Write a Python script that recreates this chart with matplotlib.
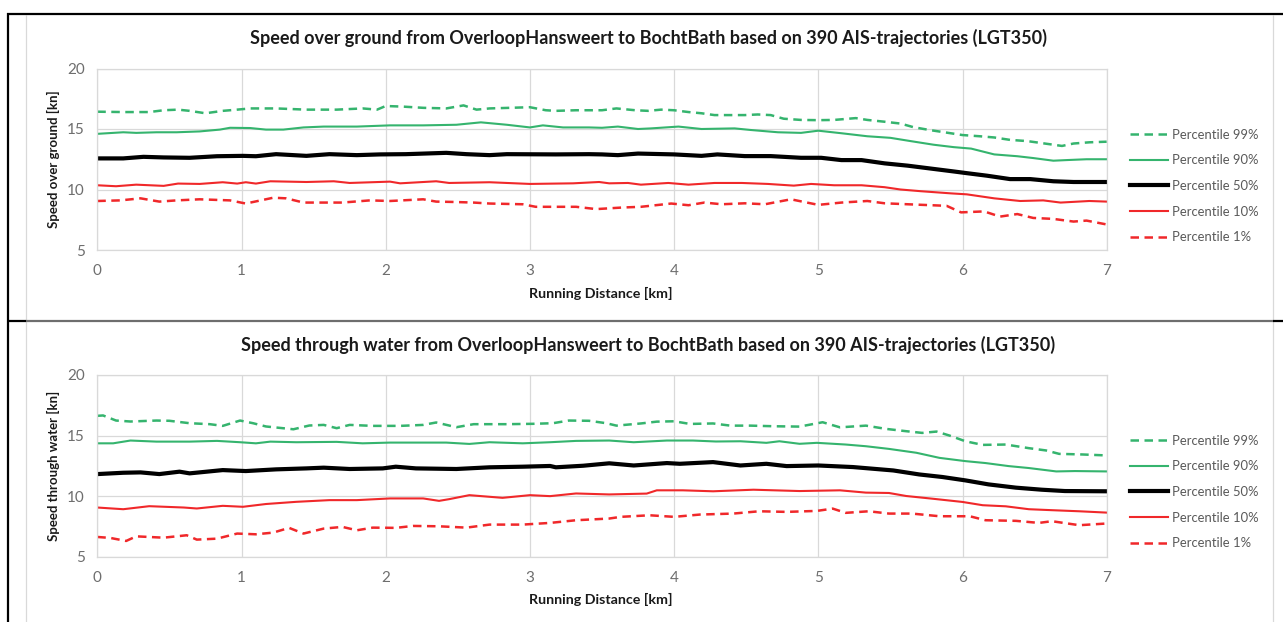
import matplotlib
matplotlib.use("Agg")
import matplotlib.pyplot as plt
from matplotlib.lines import Line2D

plt.rcParams['font.family'] = ['Lato', 'DejaVu Sans']

# ---------------- data: Speed over ground (top panel) ----------------
sog_p99_km = [0, 0.18, 0.36, 0.46, 0.56, 0.64, 0.75, 0.87, 0.97, 1.06, 1.24, 1.45, 1.66, 1.84, 1.94, 2.0,
              2.12, 2.26, 2.42, 2.54, 2.63, 2.72, 2.86, 3.0, 3.11, 3.18, 3.32, 3.5, 3.6, 3.73, 3.82, 3.91,
              4.0, 4.1, 4.19, 4.28, 4.4, 4.49, 4.58, 4.67, 4.76, 4.88, 5.0, 5.11, 5.26, 5.34, 5.46, 5.57,
              5.66, 5.78, 5.89, 6.0, 6.12, 6.22, 6.33, 6.45, 6.57, 6.69, 6.77, 6.88, 7.0]
sog_p99 = [16.43, 16.4, 16.4, 16.55, 16.6, 16.5, 16.3, 16.5, 16.6, 16.7, 16.7, 16.6, 16.6, 16.7, 16.6, 16.9,
           16.85, 16.75, 16.7, 16.95, 16.6, 16.7, 16.75, 16.8, 16.55, 16.5, 16.55, 16.55, 16.7, 16.55, 16.5, 16.6,
           16.55, 16.4, 16.3, 16.15, 16.15, 16.15, 16.2, 16.15, 15.85, 15.75, 15.73, 15.75, 15.9, 15.75, 15.6, 15.45,
           15.15, 14.9, 14.7, 14.5, 14.4, 14.3, 14.1, 14.0, 13.8, 13.6, 13.8, 13.9, 13.95]

sog_p90_km = [0, 0.18, 0.27, 0.41, 0.55, 0.71, 0.85, 0.92, 1.06, 1.17, 1.29, 1.43, 1.57, 1.8, 2.03, 2.26,
              2.49, 2.66, 2.84, 3.0, 3.09, 3.23, 3.41, 3.5, 3.61, 3.75, 3.84, 4.03, 4.19, 4.42, 4.53, 4.72,
              4.88, 5.0, 5.16, 5.34, 5.5, 5.64, 5.8, 5.94, 6.06, 6.22, 6.38, 6.49, 6.63, 6.72, 6.86, 7.0]
sog_p90 = [14.6, 14.73, 14.68, 14.73, 14.73, 14.8, 14.95, 15.1, 15.08, 14.95, 14.95, 15.13, 15.2, 15.2, 15.3, 15.3,
           15.35, 15.55, 15.35, 15.13, 15.3, 15.13, 15.13, 15.1, 15.2, 15.0, 15.05, 15.2, 15.0, 15.05, 14.92, 14.73,
           14.68, 14.86, 14.65, 14.4, 14.27, 14.0, 13.7, 13.5, 13.38, 12.9, 12.75, 12.6, 12.38, 12.43, 12.5, 12.5]

sog_p50_km = [0, 0.18, 0.32, 0.46, 0.64, 0.83, 1.01, 1.1, 1.24, 1.45, 1.61, 1.8, 1.96, 2.14, 2.42, 2.56,
              2.72, 2.84, 3.18, 3.41, 3.5, 3.61, 3.75, 4.0, 4.19, 4.3, 4.49, 4.67, 4.88, 5.02, 5.16, 5.3,
              5.46, 5.62, 5.8, 5.94, 6.03, 6.17, 6.33, 6.47, 6.63, 6.77, 7.0]
sog_p50 = [12.57, 12.57, 12.7, 12.65, 12.62, 12.75, 12.78, 12.75, 12.92, 12.78, 12.92, 12.84, 12.9, 12.92, 13.03, 12.92,
           12.84, 12.92, 12.9, 12.92, 12.9, 12.84, 12.97, 12.9, 12.78, 12.9, 12.76, 12.76, 12.62, 12.62, 12.43, 12.43,
           12.16, 11.97, 11.7, 11.49, 11.35, 11.14, 10.86, 10.86, 10.68, 10.62, 10.62]

sog_p10_km = [0, 0.13, 0.27, 0.46, 0.56, 0.71, 0.87, 0.97, 1.03, 1.1, 1.2, 1.45, 1.64, 1.75, 2.03, 2.1,
              2.35, 2.44, 2.72, 3.0, 3.3, 3.48, 3.55, 3.68, 3.77, 3.96, 4.1, 4.28, 4.47, 4.65, 4.83, 4.95,
              5.11, 5.3, 5.46, 5.57, 5.71, 5.92, 6.03, 6.22, 6.4, 6.56, 6.68, 6.88, 7.0]
sog_p10 = [10.35, 10.27, 10.4, 10.3, 10.49, 10.46, 10.6, 10.49, 10.6, 10.49, 10.68, 10.62, 10.68, 10.54, 10.65, 10.51,
           10.68, 10.54, 10.6, 10.46, 10.51, 10.62, 10.51, 10.54, 10.4, 10.54, 10.4, 10.54, 10.54, 10.46, 10.32, 10.46,
           10.35, 10.35, 10.19, 10.0, 9.86, 9.68, 9.6, 9.27, 9.05, 9.1, 8.92, 9.05, 9.0]

sog_p1_km = [0, 0.16, 0.3, 0.43, 0.55, 0.71, 0.92, 1.03, 1.22, 1.31, 1.43, 1.7, 1.89, 2.03, 2.26, 2.35,
             2.47, 2.61, 2.72, 2.95, 3.04, 3.32, 3.46, 3.64, 3.77, 3.98, 4.1, 4.21, 4.33, 4.49, 4.63, 4.81,
             5.0, 5.16, 5.34, 5.46, 5.62, 5.89, 5.99, 6.15, 6.26, 6.38, 6.49, 6.63, 6.77, 6.86, 7.0]
sog_p1 = [9.05, 9.1, 9.27, 9.0, 9.1, 9.19, 9.1, 8.84, 9.32, 9.27, 8.92, 8.92, 9.1, 9.05, 9.19, 9.0,
          8.97, 8.92, 8.84, 8.78, 8.57, 8.57, 8.38, 8.51, 8.57, 8.84, 8.7, 8.92, 8.78, 8.86, 8.78, 9.19,
          8.73, 8.92, 9.05, 8.86, 8.78, 8.65, 8.11, 8.19, 7.76, 7.97, 7.65, 7.57, 7.35, 7.43, 7.11]

# ---------------- data: Speed through water (bottom panel) ----------------
stw_p99_km = [0, 0.04, 0.13, 0.23, 0.41, 0.5, 0.64, 0.78, 0.87, 0.99, 1.08, 1.17, 1.36, 1.47, 1.57, 1.66,
              1.75, 1.91, 2.1, 2.26, 2.35, 2.49, 2.61, 2.84, 3.02, 3.16, 3.27, 3.41, 3.53, 3.6, 3.77, 3.88,
              4.0, 4.11, 4.27, 4.39, 4.53, 4.69, 4.87, 5.03, 5.15, 5.33, 5.47, 5.61, 5.72, 5.82, 5.91, 6.02,
              6.14, 6.3, 6.46, 6.58, 6.67, 6.83, 7.0]
stw_p99 = [16.63, 16.66, 16.24, 16.16, 16.24, 16.22, 16.02, 15.94, 15.8, 16.24, 16.02, 15.75, 15.52, 15.83, 15.88, 15.61,
           15.88, 15.8, 15.8, 15.88, 16.08, 15.69, 15.94, 15.94, 15.97, 16.02, 16.24, 16.22, 16.02, 15.82, 16.0, 16.15,
           16.18, 15.96, 16.0, 15.82, 15.82, 15.77, 15.74, 16.1, 15.68, 15.82, 15.55, 15.36, 15.22, 15.33, 15.0, 14.53,
           14.23, 14.26, 13.96, 13.77, 13.49, 13.44, 13.36]

stw_p90_km = [0, 0.11, 0.23, 0.41, 0.64, 0.83, 0.99, 1.1, 1.2, 1.38, 1.66, 1.84, 2.03, 2.26, 2.42, 2.58,
              2.72, 2.95, 3.14, 3.32, 3.55, 3.72, 3.95, 4.13, 4.29, 4.46, 4.64, 4.73, 4.87, 4.99, 5.19, 5.33,
              5.49, 5.68, 5.84, 6.02, 6.16, 6.32, 6.46, 6.65, 6.78, 7.0]
stw_p90 = [14.36, 14.36, 14.59, 14.5, 14.5, 14.56, 14.45, 14.36, 14.5, 14.45, 14.48, 14.36, 14.42, 14.42, 14.42, 14.31,
           14.45, 14.36, 14.45, 14.56, 14.59, 14.45, 14.59, 14.59, 14.51, 14.53, 14.4, 14.53, 14.32, 14.4, 14.26, 14.12,
           13.9, 13.58, 13.16, 12.89, 12.73, 12.48, 12.32, 12.04, 12.07, 12.04]

stw_p50_km = [0, 0.18, 0.3, 0.43, 0.57, 0.64, 0.87, 1.03, 1.24, 1.45, 1.57, 1.75, 1.98, 2.07, 2.21, 2.49,
              2.72, 2.95, 3.14, 3.18, 3.37, 3.55, 3.72, 3.95, 4.04, 4.27, 4.46, 4.64, 4.78, 5.0, 5.24, 5.52,
              5.7, 5.86, 6.02, 6.18, 6.37, 6.55, 6.71, 7.0]
stw_p50 = [11.82, 11.93, 11.96, 11.82, 12.02, 11.88, 12.15, 12.07, 12.21, 12.29, 12.35, 12.24, 12.29, 12.43, 12.29, 12.24,
           12.38, 12.43, 12.49, 12.38, 12.51, 12.71, 12.53, 12.73, 12.67, 12.81, 12.53, 12.67, 12.48, 12.53, 12.4, 12.12,
           11.79, 11.58, 11.3, 10.97, 10.7, 10.53, 10.42, 10.4]

stw_p10_km = [0, 0.18, 0.36, 0.6, 0.69, 0.87, 1.01, 1.17, 1.38, 1.61, 1.8, 2.03, 2.26, 2.37, 2.44, 2.58,
              2.81, 3.0, 3.14, 3.32, 3.55, 3.81, 3.88, 4.06, 4.27, 4.55, 4.87, 5.15, 5.33, 5.49, 5.61, 5.79,
              6.0, 6.14, 6.3, 6.46, 6.62, 6.81, 7.0]
stw_p10 = [9.06, 8.92, 9.17, 9.06, 8.98, 9.2, 9.12, 9.35, 9.53, 9.67, 9.67, 9.81, 9.81, 9.61, 9.75, 10.08,
           9.86, 10.08, 10.0, 10.22, 10.14, 10.21, 10.48, 10.48, 10.4, 10.53, 10.42, 10.48, 10.29, 10.26, 10.01, 9.79,
           9.52, 9.25, 9.16, 8.92, 8.84, 8.75, 8.64]

stw_p1_km = [0, 0.09, 0.2, 0.27, 0.46, 0.62, 0.69, 0.83, 0.97, 1.1, 1.22, 1.33, 1.43, 1.57, 1.7, 1.8,
             1.91, 2.07, 2.19, 2.37, 2.56, 2.72, 2.95, 3.14, 3.32, 3.55, 3.63, 3.83, 4.0, 4.18, 4.41, 4.59,
             4.78, 4.99, 5.1, 5.19, 5.35, 5.49, 5.65, 5.84, 6.05, 6.16, 6.37, 6.53, 6.62, 6.81, 7.0]
stw_p1 = [6.63, 6.55, 6.3, 6.68, 6.57, 6.77, 6.41, 6.49, 6.91, 6.85, 6.99, 7.38, 6.91, 7.32, 7.46, 7.18,
          7.4, 7.38, 7.54, 7.51, 7.4, 7.65, 7.65, 7.79, 8.01, 8.15, 8.29, 8.42, 8.29, 8.48, 8.56, 8.75,
          8.7, 8.78, 8.97, 8.62, 8.75, 8.56, 8.56, 8.34, 8.34, 8.01, 7.96, 7.79, 7.93, 7.6, 7.74]

series_labels = ["Percentile 99%", "Percentile 90%", "Percentile 50%", "Percentile 10%", "Percentile 1%"]
x_ticks = [0, 1, 2, 3, 4, 5, 6, 7]
y_ticks = [5, 10, 15, 20]

titles = ["Speed over ground from OverloopHansweert to BochtBath based on 390 AIS-trajectories (LGT350)",
          "Speed through water from OverloopHansweert to BochtBath based on 390 AIS-trajectories (LGT350)"]
ylabels = ["Speed over ground [kn]", "Speed through water [kn]"]
xlabel = "Running Distance [km]"

panels = [
    [(sog_p99_km, sog_p99), (sog_p90_km, sog_p90), (sog_p50_km, sog_p50), (sog_p10_km, sog_p10), (sog_p1_km, sog_p1)],
    [(stw_p99_km, stw_p99), (stw_p90_km, stw_p90), (stw_p50_km, stw_p50), (stw_p10_km, stw_p10), (stw_p1_km, stw_p1)],
]

GREEN = '#35b46e'
RED = '#f0282a'
styles = [
    dict(color=GREEN, lw=1.8, ls=(0, (3.4, 2.2))),
    dict(color=GREEN, lw=1.5, ls='-'),
    dict(color='black', lw=3.0, ls='-'),
    dict(color=RED, lw=1.5, ls='-'),
    dict(color=RED, lw=1.8, ls=(0, (3.4, 2.2))),
]

W, H = 1283, 622
fig = plt.figure(figsize=(W / 100, H / 100), dpi=100)
fig.patch.set_facecolor('white')


def fx(px):
    return px / W


def fy(py):
    return 1 - py / H


# layout (pixel positions of the reference)
ax_left, ax_right = 97.3, 1106.7
panel_tops = [68.5, 375.0]      # y pixel of value 20
panel_bottoms = [250.0, 556.7]  # y pixel of value 5
title_y = [38, 345]
xlabel_y = [293, 599]
legend_center_y = [186, 492]

TICK_COLOR = '#6e6e6e'
TEXT_COLOR = '#595959'
GRID_COLOR = '#d9d9d9'

for i in range(2):
    ax = fig.add_axes([fx(ax_left), fy(panel_bottoms[i]), fx(ax_right - ax_left),
                       (panel_bottoms[i] - panel_tops[i]) / H])
    handles = []
    for (xs, ys), st, lab in zip(panels[i], styles, series_labels):
        h, = ax.plot(xs, ys, color=st['color'], lw=st['lw'], ls=st['ls'], label=lab,
                     solid_joinstyle='round', dash_capstyle='butt')
        handles.append(h)
    ax.set_xlim(0, 7)
    ax.set_ylim(5, 20)
    ax.set_xticks(x_ticks)
    ax.set_yticks(y_ticks)
    ax.grid(True, color=GRID_COLOR, lw=0.9)
    ax.set_axisbelow(True)
    for s in ax.spines.values():
        s.set_color(GRID_COLOR)
        s.set_linewidth(0.9)
    ax.tick_params(length=0, labelsize=11, colors=TICK_COLOR)
    ax.tick_params(axis='y', pad=9)
    ax.tick_params(axis='x', pad=10)

    fig.text(fx(648), fy(title_y[i]), titles[i], ha='center', va='center',
             fontsize=13, fontweight='bold', color='#1a1a1a')
    fig.text(fx(53), fy((panel_tops[i] + panel_bottoms[i]) / 2), ylabels[i], rotation=90,
             ha='center', va='center', fontsize=9.5, fontweight='bold', color='#1a1a1a')
    fig.text(fx(601), fy(xlabel_y[i]), xlabel, ha='center', va='center',
             fontsize=10.3, fontweight='bold', color='#1a1a1a')

    leg = fig.legend(handles=handles, loc='center left',
                     bbox_to_anchor=(fx(1130), fy(legend_center_y[i])),
                     bbox_transform=fig.transFigure, frameon=False,
                     borderpad=0, borderaxespad=0, handlelength=2.9, handletextpad=0.3,
                     labelspacing=1.04, fontsize=9.4)
    for t in leg.get_texts():
        t.set_color(TEXT_COLOR)

# table / frame lines
def hline(y, x0, x1, color, lw):
    fig.add_artist(Line2D([fx(x0), fx(x1)], [fy(y), fy(y)], transform=fig.transFigure,
                          color=color, lw=lw, solid_capstyle='butt'))


def vline(x, y0, y1, color, lw):
    fig.add_artist(Line2D([fx(x), fx(x)], [fy(y0), fy(y1)], transform=fig.transFigure,
                          color=color, lw=lw, solid_capstyle='butt'))


vline(25.5, 15, 622, '#d9d9d9', 0.9)
vline(1272.7, 15, 622, '#d9d9d9', 0.9)
hline(14, 7, 1283, 'black', 1.6)
vline(8, 13, 622, 'black', 1.6)
hline(321, 7, 25.5, 'black', 1.6)
hline(321, 25.5, 1272.7, '#6e6e6e', 1.6)
hline(321, 1272.7, 1283, 'black', 1.6)

fig.savefig('out.png', dpi=100, facecolor='white')
